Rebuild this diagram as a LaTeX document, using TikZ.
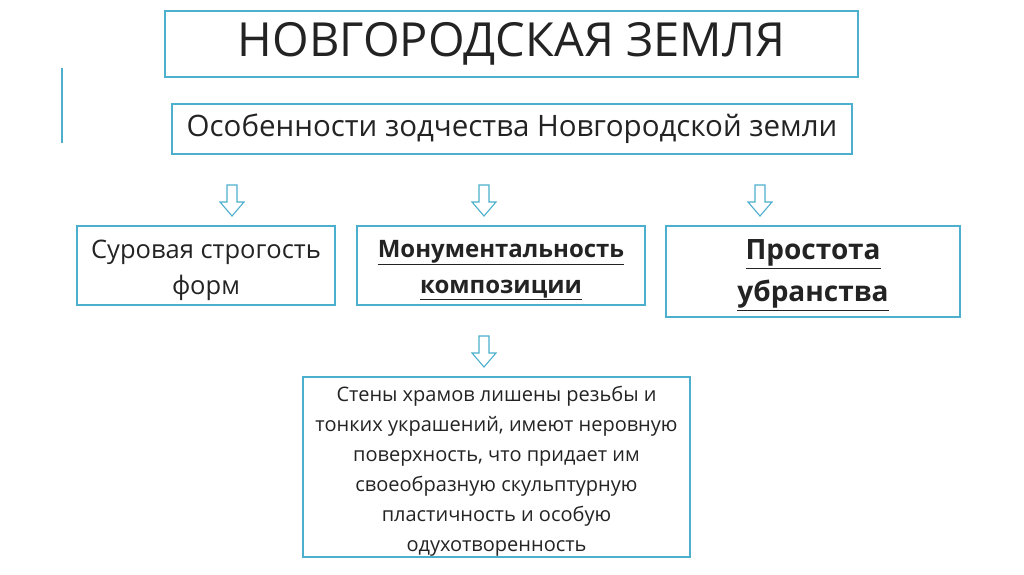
\documentclass[tikz,border=0pt]{standalone}
\usepackage{fontspec}
\setmainfont{Open Sans}
\definecolor{bx}{RGB}{75,175,205}
\definecolor{tx}{RGB}{35,35,35}
\tikzset{box/.style={draw=bx,line width=1.3pt,text=tx,align=center,inner sep=0pt},
 harrow/.style={draw=bx,line width=1.1pt,fill=white}}
\newcommand{\harr}[2]{\draw[harrow] (#1-5,#2) -- (#1+5,#2) -- (#1+5,#2+17) -- (#1+12,#2+17) -- (#1,#2+31) -- (#1-12,#2+17) -- (#1-5,#2+17) -- cycle;}
\begin{document}
\begin{tikzpicture}[x=1pt,y=-1pt]
\useasboundingbox (0,0) rectangle (1024,574);
\node[box,minimum width=693,minimum height=66,font=\fontsize{47}{50}\selectfont] (t) at (511.5,44) {НОВГОРОДСКАЯ ЗЕМЛЯ};
\node[box,minimum width=680,minimum height=50,font=\fontsize{29.5}{32}\selectfont] (s) at (512,129) {Особенности зодчества Новгородской земли};
\draw[bx,line width=2pt] (62,68) -- (62,143);
\harr{232}{185}\harr{484}{185}\harr{760}{185}\harr{484}{336}
\node[box,minimum width=258,minimum height=79] (a) at (206,265.5) {};
\node[text=tx,align=center,font=\fontsize{25.5}{36}\selectfont] at (206,270) {Суровая строгость\\форм};
\node[box,minimum width=288,minimum height=79] (b) at (501,265.5) {};
\node[text=tx,align=center,font=\bfseries\fontsize{24}{36}\selectfont] at (501,270) {\underline{Монументальность}\\\underline{композиции}};
\node[box,minimum width=294,minimum height=91] (c) at (813,271.5) {};
\node[text=tx,align=center,font=\bfseries\fontsize{28}{42}\selectfont] at (813,275) {\underline{Простота}\\\underline{убранства}};
\node[box,minimum width=387,minimum height=180] (d) at (496.5,467) {};
\node[text=tx,align=center,font=\fontsize{20}{30}\selectfont] at (496.5,471) {Стены храмов лишены резьбы и\\тонких украшений, имеют неровную\\поверхность, что придает им\\своеобразную скульптурную\\пластичность и особую\\одухотворенность};
\end{tikzpicture}
\end{document}
